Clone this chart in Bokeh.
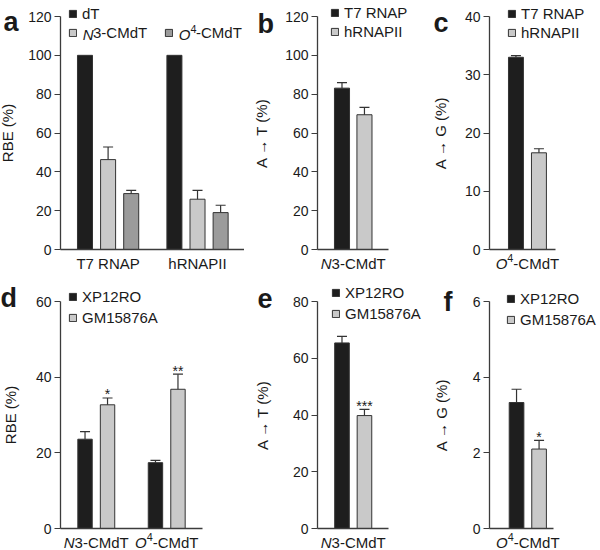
from bokeh.plotting import figure
from bokeh.models import (Range1d, Legend, LegendItem, Label, Whisker, TeeHead,
                          ColumnDataSource, FixedTicker)
from bokeh.core.properties import value
from bokeh.layouts import row, column
from bokeh.embed import file_html
from bokeh.resources import INLINE

# ---------------- data ----------------
a_groups = ["T7 RNAP", "hRNAPII"]
a_dT = [100.0, 100.0]
a_N3 = [46.3, 25.9]
a_N3_err = [6.5, 4.6]
a_O4 = [28.8, 19.0]
a_O4_err = [1.7, 3.8]

bc_series = ["T7 RNAP", "hRNAPII"]
b_vals = [83.1, 69.4]
b_errs = [2.8, 3.8]
c_vals = [33.0, 16.6]
c_errs = [0.3, 0.7]

def_series = ["XP12RO", "GM15876A"]
d_XP = [23.6, 17.4]
d_XP_err = [2.0, 0.6]
d_GM = [32.7, 36.8]
d_GM_err = [1.8, 4.0]
d_GM_sig = ["*", "**"]
e_vals = [65.4, 39.8]
e_errs = [2.3, 2.2]
e_sig = ["", "***"]
f_vals = [3.33, 2.10]
f_errs = [0.35, 0.23]
f_sig = ["", "*"]

# ---------------- style ----------------
FONT = "Liberation Sans"
DARK = "#1e1e1e"
LIGHT = "#c9c9c9"
MID = "#9b9b9b"
EDGE = "#333333"
AX = "#3c3c3c"
TXT = "#1a1a1a"
FS = 15          # legend / category / axis-label text size (px)
TICK_FS = "14px"

CW = {"N": .722, "O": .778, "3": .556, "4": .556, "-": .333, "C": .722,
      "M": .833, "d": .556, "T": .611}


def tw(s, size):
    return sum(CW[c] for c in s) * size


class Panel:
    """A figure whose frame fills the canvas; the axes sit at fixed data
    locations so that every annotation lies inside the frame."""

    def __init__(self, w, h, box, xr, ytop, ystep, ylabel, lab_s):
        l, r, t, b = box
        self.w, self.h = w, h
        x0, x1 = xr
        dx = (x1 - x0) / (r - l)
        dy = ytop / (b - t)
        p = figure(width=w, height=h, output_backend="svg", toolbar_location=None,
                   x_range=Range1d(x0 - l * dx, x1 + (w - r) * dx),
                   y_range=Range1d(-(h - b) * dy, ytop + t * dy),
                   min_border=0)
        p.outline_line_color = None
        p.xgrid.visible = False
        p.ygrid.visible = False
        ya = p.yaxis[0]
        ya.fixed_location = x0
        ya.bounds = (0, ytop)
        ya.ticker = FixedTicker(ticks=list(range(0, ytop + 1, ystep)))
        ya.minor_tick_line_color = None
        ya.major_tick_out = 6
        ya.major_tick_in = 0
        ya.major_tick_line_color = AX
        ya.major_tick_line_width = 1.2
        ya.axis_line_color = AX
        ya.axis_line_width = 1.3
        ya.major_label_text_font = FONT
        ya.major_label_text_font_size = TICK_FS
        ya.major_label_text_color = TXT
        ya.major_label_standoff = 3
        ya.axis_label = ylabel
        ya.axis_label_text_font = FONT
        ya.axis_label_text_font_size = f"{FS}px"
        ya.axis_label_text_font_style = "normal"
        ya.axis_label_text_color = TXT
        ya.axis_label_standoff = lab_s
        xa = p.xaxis[0]
        xa.fixed_location = 0
        xa.bounds = (x0, x1)
        xa.ticker = FixedTicker(ticks=[])
        xa.major_tick_line_color = None
        xa.minor_tick_line_color = None
        xa.axis_line_color = AX
        xa.axis_line_width = 1.3
        xa.major_label_text_font_size = "0px"
        self.p = p

    def sy(self, fy):
        return self.h - fy

    def bars(self, xs, vals, errs, color, width):
        src = ColumnDataSource(dict(x=xs, top=vals,
                                    upper=[v + e for v, e in zip(vals, errs)],
                                    lower=vals))
        r = self.p.vbar(x="x", top="top", bottom=0, width=width, source=src,
                        fill_color=color, line_color=EDGE, line_width=1)
        if any(e > 0 for e in errs):
            self.p.add_layout(Whisker(
                source=src, base="x", upper="upper", lower="lower",
                dimension="height", line_color=EDGE, line_width=1.2,
                upper_head=TeeHead(size=10, line_color=EDGE, line_width=1.2),
                lower_head=None, level="overlay"))
        return r

    def txt(self, text, x, y, xu="screen", yu="screen", size=f"{FS}px",
            style="normal", align="left", baseline="middle", xo=0, yo=0):
        self.p.add_layout(Label(x=x, y=y, x_units=xu, y_units=yu, text=text,
                                text_font=FONT, text_font_size=size,
                                text_font_style=style, text_align=align,
                                text_baseline=baseline, text_color=TXT,
                                x_offset=xo, y_offset=yo))

    def compound(self, x, xu, fy, prefix, sup, rest, size=FS, mode="center",
                 baseline="alphabetic", draw_rest=True):
        y = self.sy(fy)
        wp = tw(prefix, size)
        ssz = size * 0.72
        ws = tw(sup, ssz) if sup else 0
        wr = tw(rest, size)
        off = -(wp + ws + wr) / 2 if mode == "center" else -(wp + ws)
        self.txt(prefix, x, y, xu, size=f"{size}px", style="italic",
                 baseline=baseline, xo=off)
        if sup:
            self.txt(sup, x, y, xu, size=f"{ssz:.1f}px", baseline=baseline,
                     xo=off + wp, yo=size * 0.38)
        if draw_rest:
            self.txt(rest, x, y, xu, size=f"{size}px", baseline=baseline,
                     xo=off + wp + ws)

    def cat_label(self, x, text, fy_base):
        self.txt(text, x, self.sy(fy_base), xu="data", align="center",
                 baseline="alphabetic")

    def legend(self, items, fx, fy_center, row_h, standoff=5):
        # location = bottom-left corner of the legend, frame coordinates
        bottom = fy_center - row_h / 2 + len(items) * row_h + LEG_SHIFT
        lg = Legend(items=[LegendItem(label=value(t), renderers=[r]) for t, r in items],
                    location=(fx, self.sy(bottom)), orientation="vertical",
                    glyph_width=9, glyph_height=9, label_height=row_h,
                    label_standoff=int(standoff), spacing=0, padding=0, margin=0,
                    border_line_color=None, background_fill_alpha=0,
                    label_text_font=FONT, label_text_font_size=f"{FS}px",
                    label_text_color=TXT)
        self.p.add_layout(lg)

    def letter(self, ch, fx, fy):
        self.txt(ch, fx, self.sy(fy), size="27px", style="bold",
                 baseline="alphabetic")

    def stars(self, xs, vals, errs, sig):
        for x, v, e, s in zip(xs, vals, errs, sig):
            if s:
                self.txt(s, x, v + e, xu="data", yu="data", size="14px",
                         align="center", baseline="alphabetic", yo=3.5)


R1 = 19
R2 = 21
H1 = 274
H2 = 276
CAT1 = 263
CAT2 = 268
LEG_SHIFT = -2

# ---------------- panel a ----------------
A = Panel(244, H1, (60, 246, 16, 249), (-1.06, 6.99), 120, 20, "RBE (%)", 9)
ga = 3.87
xa_dT = [g * ga + 0 for g in range(len(a_groups))]
xa_N3 = [g * ga + 1 for g in range(len(a_groups))]
xa_O4 = [g * ga + 2 for g in range(len(a_groups))]
r_dT = A.bars(xa_dT, a_dT, [0, 0], DARK, 0.65)
r_N3 = A.bars(xa_N3, a_N3, a_N3_err, LIGHT, 0.65)
r_O4 = A.bars(xa_O4, a_O4, a_O4_err, MID, 0.65)
for g, name in enumerate(a_groups):
    A.cat_label(g * ga + 1, name, CAT1)
so_n = round(5 + tw("N", FS))
so_o = round(5 + tw("O", FS) + tw("4", FS * 0.72))
A.legend([("dT", r_dT)], 68, 15, R1)
A.legend([("3-CMdT", r_N3)], 68, 34, R1, standoff=so_n)
A.legend([("-CMdT", r_O4)], 164, 34, R1, standoff=so_o)
A.compound(68 + 9 + so_n, "screen", 34, "N", "", "3-CMdT", mode="split",
           baseline="middle", draw_rest=False)
A.compound(164 + 9 + so_o, "screen", 34, "O", "4", "-CMdT", mode="split",
           baseline="middle", draw_rest=False)
A.letter("a", 3, 21)

# ---------------- panel b ----------------
B = Panel(174, H1, (73, 144, 16, 249), (-1.09, 2.07), 120, 20, "A \u2192 T (%)", 12)
rb = [B.bars([i], [b_vals[i]], [b_errs[i]], c, 0.67)
      for i, c in enumerate([DARK, LIGHT])]
B.legend(list(zip(bc_series, rb)), 86, 14, R1)
B.compound(0.5, "data", CAT1, "N", "", "3-CMdT")
B.letter("b", 13, 23)

# ---------------- panel c ----------------
C = Panel(182, H1, (71, 137, 16, 249), (-1.15, 1.72), 40, 10, "A \u2192 G (%)", 13)
rc = [C.bars([i], [c_vals[i]], [c_errs[i]], c, 0.65)
      for i, c in enumerate([DARK, LIGHT])]
C.legend(list(zip(bc_series, rc)), 89, 15.5, R1)
C.compound(0.5, "data", CAT1, "O", "4", "-CMdT")
C.letter("c", 15, 22)

# ---------------- panel d ----------------
D = Panel(248, H2, (60, 202, 27, 254), (-1.09, 5.22), 60, 20, "RBE (%)", 14)
gd = 3.13
xd_XP = [g * gd + 0 for g in range(len(d_XP))]
xd_GM = [g * gd + 1 for g in range(len(d_GM))]
r_XP = D.bars(xd_XP, d_XP, d_XP_err, DARK, 0.64)
r_GM = D.bars(xd_GM, d_GM, d_GM_err, LIGHT, 0.64)
D.stars(xd_GM, d_GM, d_GM_err, d_GM_sig)
D.legend([(def_series[0], r_XP), (def_series[1], r_GM)], 68, 24, R2)
D.compound(0 * gd + 0.5, "data", CAT2, "N", "", "3-CMdT")
D.compound(1 * gd + 0.5, "data", CAT2, "O", "4", "-CMdT")
D.letter("d", 0, 23)

# ---------------- panel e ----------------
E = Panel(176, H2, (69, 140, 27, 254), (-1.09, 2.07), 80, 20, "A \u2192 T (%)", 19)
xe = [0, 1]
re_ = [E.bars([xe[i]], [e_vals[i]], [e_errs[i]], c, 0.65)
       for i, c in enumerate([DARK, LIGHT])]
E.stars(xe, e_vals, e_errs, e_sig)
E.legend(list(zip(def_series, re_)), 83, 20, R2)
E.compound(0.5, "data", CAT2, "N", "", "3-CMdT")
E.letter("e", 9, 24)

# ---------------- panel f ----------------
F = Panel(176, H2, (65, 129, 27, 254), (-1.2, 1.64), 6, 2, "A \u2192 G (%)", 20)
xf = [0, 1]
rf = [F.bars([xf[i]], [f_vals[i]], [f_errs[i]], c, 0.65)
      for i, c in enumerate([DARK, LIGHT])]
F.stars(xf, f_vals, f_errs, f_sig)
F.legend(list(zip(def_series, rf)), 82, 26, R2)
F.compound(0.5, "data", CAT2, "O", "4", "-CMdT")
F.letter("f", 19, 27)

layout = column(row(A.p, B.p, C.p), row(D.p, E.p, F.p))
open("out.html", "w").write(file_html(layout, INLINE))
